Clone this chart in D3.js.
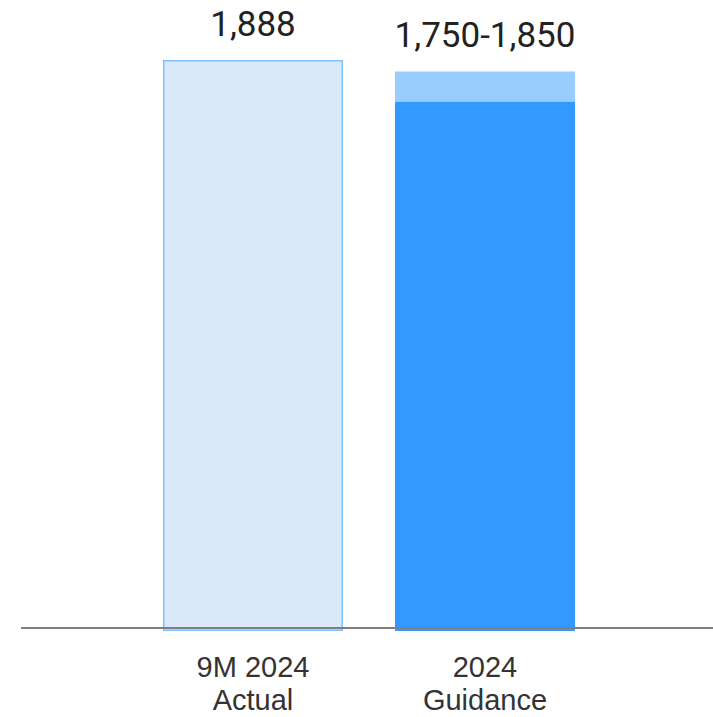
<!DOCTYPE html>
<html>
<head>
<meta charset="utf-8">
<script src="https://cdn.jsdelivr.net/npm/d3@7"></script>
<style>
  body { margin: 0; background: #fff; }
  text { font-family: Roboto, "Liberation Sans", sans-serif; }
</style>
</head>
<body>
<div id="chart"></div>
<script>
const categories = ["9M 2024\nActual", "2024\nGuidance"]
const actualValues = [1888, null]
const guidanceLow = [null, 1750]
const guidanceHigh = [null, 1850]
const valueLabels = ["1,888", "1,750-1,850"]

const width = 713, height = 717
const svg = d3.select("#chart").append("svg")
    .attr("width", width)
    .attr("height", height)

const x = d3.scaleBand()
    .domain(categories)
    .range([163, 575])
    .paddingInner(0.224)
    .paddingOuter(0)

const y = d3.scaleLinear()
    .domain([0, 1888])
    .range([631, 60])

// actual bar
svg.selectAll(".actual")
    .data(categories.filter((c, i) => actualValues[i] != null))
    .enter().append("rect")
    .attr("class", "actual")
    .attr("x", d => x(d) + 0.75)
    .attr("y", d => y(actualValues[categories.indexOf(d)]) + 0.75)
    .attr("width", x.bandwidth() - 1.5)
    .attr("height", d => y(0) - y(actualValues[categories.indexOf(d)]) - 1.5)
    .style("fill", "#dbeafa")
    .style("stroke", "#80bfff")
    .style("stroke-width", 1.5)

// guidance range: upper light part, lower solid part
const gIdx = categories.map((c, i) => i).filter(i => guidanceLow[i] != null)
svg.selectAll(".gHigh")
    .data(gIdx)
    .enter().append("rect")
    .attr("x", i => x(categories[i]))
    .attr("y", i => y(guidanceHigh[i]))
    .attr("width", x.bandwidth())
    .attr("height", i => y(guidanceLow[i]) - y(guidanceHigh[i]))
    .style("fill", "#99ccff")
svg.selectAll(".gLow")
    .data(gIdx)
    .enter().append("rect")
    .attr("x", i => x(categories[i]))
    .attr("y", i => y(guidanceLow[i]))
    .attr("width", x.bandwidth())
    .attr("height", i => y(0) - y(guidanceLow[i]))
    .style("fill", "#3399ff")

// baseline
svg.append("line")
    .attr("x1", 21).attr("x2", width)
    .attr("y1", 628).attr("y2", 628)
    .style("stroke", "#7f7f7f")
    .style("stroke-width", 2)

// value labels
const tops = categories.map((c, i) => actualValues[i] != null ? actualValues[i] : guidanceHigh[i])
svg.selectAll(".vlabel")
    .data(categories)
    .enter().append("text")
    .attr("x", d => x(d) + x.bandwidth() / 2)
    .attr("y", (d, i) => y(tops[i]) - 24)
    .attr("text-anchor", "middle")
    .style("font-size", "35px")
    .style("fill", "#222")
    .text((d, i) => valueLabels[i])

// category labels
const cl = svg.selectAll(".clabel")
    .data(categories)
    .enter().append("text")
    .attr("text-anchor", "middle")
    .style("font-family", "'Liberation Sans', Arial, sans-serif")
    .style("font-size", "29px")
    .style("fill", "#333")
cl.selectAll("tspan")
    .data(d => d.split("\n").map(t => ({ t, c: d })))
    .enter().append("tspan")
    .attr("x", d => x(d.c) + x.bandwidth() / 2)
    .attr("y", (d, j) => 677 + j * 33)
    .text(d => d.t)
</script>
</body>
</html>
